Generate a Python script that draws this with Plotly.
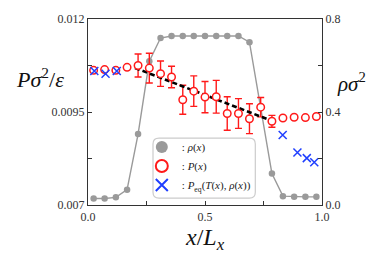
import plotly.graph_objects as go

# density profile rho(x) (right axis)
x_rho = [0.024, 0.071, 0.119, 0.167, 0.214, 0.262, 0.310, 0.357, 0.405, 0.452, 0.500,
         0.548, 0.595, 0.643, 0.690, 0.738, 0.786, 0.833, 0.881, 0.929, 0.976]
rho = [0.028, 0.028, 0.033, 0.066, 0.305, 0.618, 0.718, 0.727, 0.727, 0.727, 0.727,
       0.727, 0.727, 0.727, 0.700, 0.420, 0.135, 0.038, 0.035, 0.035, 0.035]

# pressure profile P(x) (left axis)
x_p = x_rho
p = [0.01062, 0.01064, 0.01062, 0.01070, 0.01075, 0.01068, 0.01053, 0.01044, 0.00983, 0.01006, 0.00990,
     0.00991, 0.00946, 0.00946, 0.00932, 0.00963, 0.00925, 0.00934, 0.00936, 0.00935, 0.00938]
p_err = [0, 0, 0, 0, 0.00031, 0.00040, 0.00034, 0.00029, 0.00039, 0.00041, 0.00042,
         0.00044, 0.00045, 0.00040, 0.00040, 0.00026, 0.00016, 0, 0, 0, 0]

# equilibrium pressure P_eq(T(x), rho(x)) in the gas phase
x_eq = [0.027, 0.075, 0.123, 0.832, 0.895, 0.935, 0.967]
p_eq = [0.01060, 0.01053, 0.01060, 0.00888, 0.00841, 0.00826, 0.00815]

# linear fit in the liquid region
x_fit = [0.201, 0.770]
p_fit = [0.010685, 0.00930]

SERIF = "Liberation Serif"
RED = "#ff1a1a"
BLUE = "#1f3fff"
GRAY = "#9a9a9a"

fig = go.Figure()

fig.add_trace(go.Scatter(
    x=x_rho, y=rho, yaxis="y", mode="lines",
    line=dict(color=GRAY, width=1.4), showlegend=False, hoverinfo="skip"))
fig.add_trace(go.Scatter(
    x=x_rho, y=rho, yaxis="y", mode="markers",
    marker=dict(color=GRAY, size=6.5),
    name=": <i>ρ</i>(<i>x</i>)"))

fig.add_trace(go.Scatter(
    x=x_p, y=p, yaxis="y2", mode="markers",
    marker=dict(size=1, opacity=0),
    error_y=dict(type="data", array=p_err, color=RED, thickness=1.4, width=3.5),
    showlegend=False, hoverinfo="skip"))

fig.add_trace(go.Scatter(
    x=x_fit, y=p_fit, yaxis="y2", mode="lines",
    line=dict(color="black", width=2.6, dash="5px,3px"),
    showlegend=False))

fig.add_trace(go.Scatter(
    x=x_p, y=p, yaxis="y2", mode="markers",
    marker=dict(symbol="circle", size=7.5, color="white", line=dict(color=RED, width=1.5)),
    name=": <i>P</i>(<i>x</i>)"))

fig.add_trace(go.Scatter(
    x=x_eq, y=p_eq, yaxis="y2", mode="markers",
    marker=dict(symbol="x-thin", size=8, color=BLUE, line=dict(color=BLUE, width=1.5)),
    name=": <i>P</i><sub>eq</sub>(<i>T</i>(<i>x</i>), <i>ρ</i>(<i>x</i>))"))

axis_common = dict(showgrid=False, zeroline=False, ticks="inside", ticklen=4, tickwidth=1,
                   tickcolor="#333", linecolor="#333", linewidth=1.3,
                   tickfont=dict(family=SERIF, size=12, color="#333"))

fig.update_layout(
    width=374, height=253,
    margin=dict(l=88, r=52, t=16, b=48),
    paper_bgcolor="white", plot_bgcolor="white",
    font=dict(family=SERIF, color="#222"),
    xaxis=dict(range=[0, 1], tickvals=[0, 0.25, 0.5, 0.75, 1.0],
               ticktext=["0.0", "", "0.5", "", "1.0"], mirror=True, **axis_common),
    yaxis=dict(range=[0, 0.8], side="right", tickvals=[0, 0.2, 0.4, 0.6, 0.8],
               ticktext=["0.0", "", "0.4", "", "0.8"], **axis_common),
    yaxis2=dict(range=[0.007, 0.012], side="left", overlaying="y",
                tickvals=[0.007, 0.00825, 0.0095, 0.01075, 0.012],
                ticktext=["0.007", "", "0.0095", "", "0.012"], **axis_common),
    showlegend=True,
    legend=dict(x=0.23, y=0.39, xanchor="left", yanchor="top",
                bgcolor="rgba(0,0,0,0)", borderwidth=0, itemsizing="constant",
                font=dict(family=SERIF, size=11, color="#222"),
                tracegroupgap=0, itemwidth=30),
)

# rounded legend frame
x0, x1, y0, y1 = 0.2778, 0.715, 0.037, 0.3598
rx, ry = 0.0256, 0.0317
path = (f"M {x0+rx},{y0} L {x1-rx},{y0} Q {x1},{y0} {x1},{y0+ry} "
        f"L {x1},{y1-ry} Q {x1},{y1} {x1-rx},{y1} L {x0+rx},{y1} "
        f"Q {x0},{y1} {x0},{y1-ry} L {x0},{y0+ry} Q {x0},{y0} {x0+rx},{y0} Z")
fig.add_shape(type="path", path=path, xref="paper", yref="paper",
              line=dict(color="#cccccc", width=1.2), fillcolor="white", layer="above")

fig.add_annotation(text="<i>P</i><i>σ</i><sup>2</sup>/<i>ε</i>", x=-0.205, y=0.683,
                   xref="paper", yref="paper", xanchor="center", yanchor="middle",
                   showarrow=False, font=dict(family=SERIF, size=22, color="#111"))
fig.add_annotation(text="<i>ρσ</i><sup>2</sup>", x=1.128, y=0.661,
                   xref="paper", yref="paper", xanchor="center", yanchor="middle",
                   showarrow=False, font=dict(family=SERIF, size=21, color="#111"))
fig.add_annotation(text="<i>x</i>/<i>L</i><sub><i>x</i></sub>", x=0.5, y=-0.185,
                   xref="paper", yref="paper", xanchor="center", yanchor="middle",
                   showarrow=False, font=dict(family=SERIF, size=24, color="#111"))

fig.write_html("out.html", config={"displayModeBar": False},
               post_script="document.body.style.margin='0';document.body.style.padding='0';")
